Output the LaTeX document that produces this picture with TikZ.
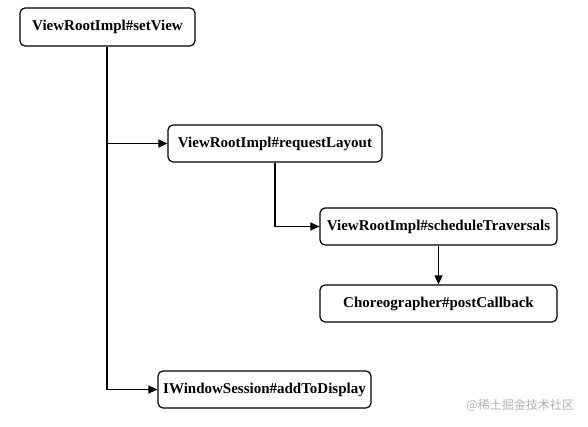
\documentclass[tikz,border=0pt]{standalone}
\usepackage{fontspec}
\setmainfont{Liberation Serif}
\newfontfamily\cjk{Noto Sans CJK SC}
\usetikzlibrary{arrows.meta}
\definecolor{wm}{RGB}{175,175,175}
\tikzset{
  box/.style={draw=black, line width=1.2pt, rounded corners=5pt, fill=white,
    inner sep=0pt, font=\bfseries\fontsize{15}{17}\selectfont, text=black},
  conn/.style={draw=black, line width=1.2pt},
  arr/.style={conn, -{Triangle[length=9pt,width=8pt]}}
}
\begin{document}
\begin{tikzpicture}[x=1pt,y=-1pt]
\useasboundingbox (0,0) rectangle (588,426);
\node[box, minimum width=175pt, minimum height=38pt] (setview) at (107.5,27) {ViewRootImpl\#setView};
\node[box, minimum width=214pt, minimum height=37pt] (reqlayout) at (275,143.5) {ViewRootImpl\#requestLayout};
\node[box, minimum width=237pt, minimum height=37pt] (sched) at (438.5,226.5) {ViewRootImpl\#scheduleTraversals};
\node[box, minimum width=237pt, minimum height=37pt] (choreo) at (438.5,303.5) {Choreographer\#postCallback};
\node[box, minimum width=213pt, minimum height=37pt] (addtd) at (264.5,389.5) {IWindowSession\#addToDisplay};
\coordinate (j1) at (107,143.5);
\coordinate (j2) at (107,389.5);
\coordinate (j3) at (275,226.5);
\draw[conn] (setview.south -| j1) -- (j2);
\draw[arr] (j1) -- (reqlayout.west);
\draw[arr] (j2) -- (addtd.west);
\draw[conn] (reqlayout.south) -- (j3);
\draw[arr] (j3) -- (sched.west);
\draw[arr] (sched.south) -- (choreo.north);
\node[anchor=east, text=wm, font=\cjk\fontsize{12}{14}\selectfont, inner sep=0pt] (wmark) at (574,405) {@稀土掘金技术社区};
\end{tikzpicture}
\end{document}
